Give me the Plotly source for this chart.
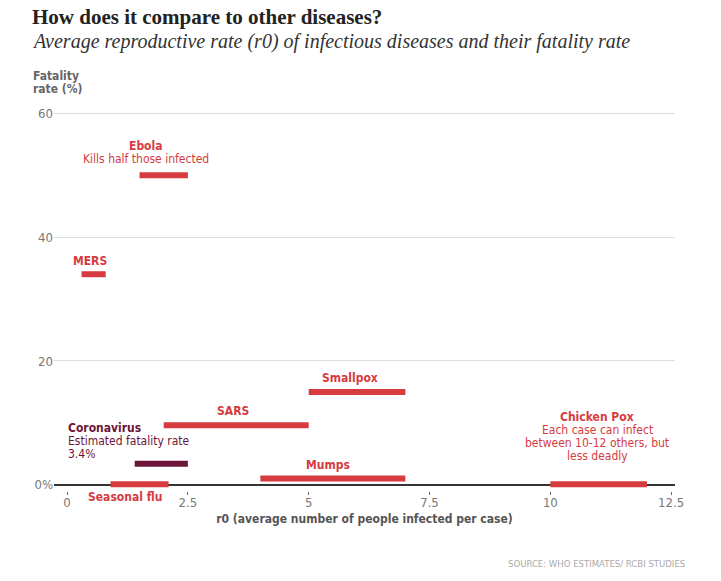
import plotly.graph_objects as go

# ---- data ----
diseases = ["Ebola", "MERS", "Smallpox", "SARS", "Coronavirus", "Mumps", "Seasonal flu", "Chicken Pox"]
r0_low = [1.5, 0.3, 5.0, 2.0, 1.4, 4.0, 0.9, 10.0]
r0_high = [2.5, 0.8, 7.0, 5.0, 2.5, 7.0, 2.1, 12.0]
fatality = [50, 34, 15, 9.6, 3.4, 1, 0.1, 0.1]
x_ticks = [0, 2.5, 5, 7.5, 10, 12.5]
x_tick_labels = ["0", "2.5", "5", "7.5", "10", "12.5"]
y_ticks = [0, 20, 40, 60]
y_tick_labels = ["0%", "20", "40", "60"]

label_lines = {
    "Ebola": ["Ebola", "Kills half those infected"],
    "MERS": ["MERS"],
    "Smallpox": ["Smallpox"],
    "SARS": ["SARS"],
    "Coronavirus": ["Coronavirus", "Estimated fatality rate", "3.4%"],
    "Mumps": ["Mumps"],
    "Seasonal flu": ["Seasonal flu"],
    "Chicken Pox": ["Chicken Pox", "Each case can infect", "between 10-12 others, but", "less deadly"],
}

# ---- styles / layout positions ----
RED = "#d63b3f"
MAROON = "#6b1538"
COND = "Liberation Sans Narrow, DejaVu Sans Condensed, Arial Narrow, sans-serif"
SERIF = "Liberation Serif, Times New Roman, serif"

# label anchor (x data, y data, extra pixel shift of first line centre), alignment
label_pos = {
    "Ebola": (1.64, 50, 29, "center"),
    "MERS": (0.47, 34, 13, "center"),
    "Smallpox": (5.86, 15, 14, "center"),
    "SARS": (3.43, 9.6, 14, "center"),
    "Coronavirus": (-0.03, 3.4, 36, "left"),
    "Mumps": (5.4, 1, 14, "center"),
    "Seasonal flu": (1.2, 0, -12, "center"),
    "Chicken Pox": (10.97, 0.1, 67, "center"),
}
LINE_H = 13

W, H = 721, 581
ML, MR, MT, MB = 54, 46, 107, 90
PW, PH = W - ML - MR, H - MT - MB


def paper(xpx, ypx):
    return (xpx - ML) / PW, (H - MB - ypx) / PH


fig = go.Figure()
for name, lo, hi, f in zip(diseases, r0_low, r0_high, fatality):
    color = MAROON if name == "Coronavirus" else RED
    fig.add_trace(go.Scatter(x=[lo, hi], y=[f, f], mode="lines",
                             line=dict(color=color, width=6),
                             hoverinfo="skip", showlegend=False))

annotations = []
for name in diseases:
    color = MAROON if name == "Coronavirus" else RED
    lx, ly, sh, al = label_pos[name]
    for i, line in enumerate(label_lines[name]):
        txt = f"<b>{line}</b>" if i == 0 else line
        annotations.append(dict(x=lx, y=ly, xref="x", yref="y", text=txt,
                                showarrow=False, xanchor=al, yanchor="middle",
                                yshift=sh - LINE_H * i,
                                font=dict(family=COND, size=12, color=color)))

# titles and notes
px, py = paper(30, 17)
annotations.append(dict(x=px, y=py, xref="paper", yref="paper", xanchor="left", yanchor="middle",
                        text="<b>How does it compare to other diseases?</b>", showarrow=False,
                        font=dict(family=SERIF, size=21, color="#222")))
px, py = paper(30, 41)
annotations.append(dict(x=px, y=py, xref="paper", yref="paper", xanchor="left", yanchor="middle",
                        text="<i>Average reproductive rate (r0) of infectious diseases and their fatality rate</i>",
                        showarrow=False, font=dict(family=SERIF, size=20, color="#333")))
px, py = paper(31, 76)
annotations.append(dict(x=px, y=py, xref="paper", yref="paper", xanchor="left", yanchor="middle",
                        text="<b>Fatality</b>", showarrow=False,
                        font=dict(family=COND, size=12, color="#666")))
px, py = paper(31, 89)
annotations.append(dict(x=px, y=py, xref="paper", yref="paper", xanchor="left", yanchor="middle",
                        text="<b>rate (%)</b>", showarrow=False,
                        font=dict(family=COND, size=12, color="#666")))
px, py = paper(687, 563)
annotations.append(dict(x=px, y=py, xref="paper", yref="paper", xanchor="right", yanchor="middle",
                        text="SOURCE: WHO ESTIMATES/ RCBI STUDIES", showarrow=False,
                        font=dict(family=COND, size=9.5, color="#aaa")))

fig.update_layout(
    width=W, height=H,
    margin=dict(l=ML, r=MR, t=MT, b=MB),
    paper_bgcolor="white", plot_bgcolor="white",
    annotations=annotations,
    xaxis=dict(range=[-0.27, 12.58], tickvals=x_ticks, ticktext=x_tick_labels,
               ticks="outside", ticklen=3, tickcolor="#666", tickwidth=1,
               ticklabelstandoff=-4,
               showgrid=False, zeroline=False, showline=False,
               tickfont=dict(family=COND, size=13, color="#777"),
               title=dict(text="<b>r0 (average number of people infected per case)</b>",
                          font=dict(family=COND, size=12, color="#555"), standoff=6)),
    yaxis=dict(range=[-1, 61], tickvals=y_ticks, ticktext=y_tick_labels,
               showgrid=True, gridcolor="#dddddd", gridwidth=1,
               zeroline=True, zerolinecolor="#333", zerolinewidth=2,
               showline=False, ticks="",
               tickfont=dict(family=COND, size=13, color="#777")),
)

fig.write_html("out.html")
